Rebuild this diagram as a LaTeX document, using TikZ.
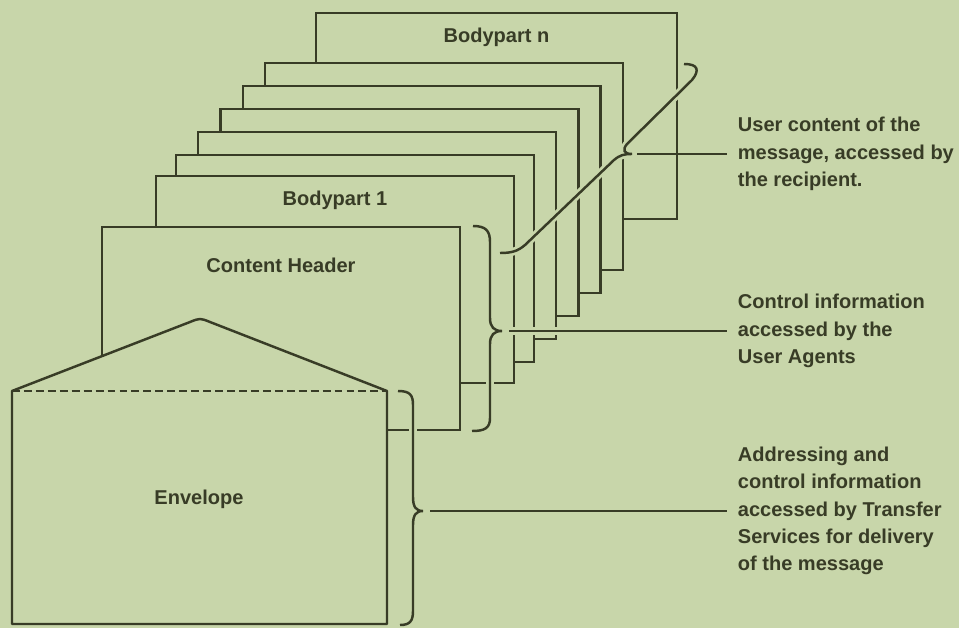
\documentclass[tikz,border=0pt]{standalone}
\usepackage{fontspec}
\setmainfont{Liberation Sans}
\usetikzlibrary{positioning, calc}
\definecolor{paper}{RGB}{200,214,170}
\definecolor{ink}{RGB}{56,60,38}

\begin{document}
\begin{tikzpicture}[
    x=0.02cm, y=-0.02cm,
    sheet/.style={rectangle, draw=ink, fill=paper, line width=1.4pt, anchor=north west,
                  minimum width=7.16cm, minimum height=4.14cm, inner sep=0pt, outer sep=0pt},
    title/.style={font=\fontsize{11.4}{15.6}\selectfont\bfseries, text=ink, inner sep=0pt},
    note/.style={font=\fontsize{11.4}{15.6}\selectfont\bfseries, text=ink, align=left,
                 anchor=west, inner xsep=6pt, inner ysep=0pt},
    brace/.style={draw=ink, line width=1.4pt, preaction={draw=paper, line width=4.5pt}},
    link/.style={draw=ink, line width=1.4pt, preaction={draw=paper, line width=4.5pt}}
]
\fill[paper] (0,0) rectangle (959,628);
\useasboundingbox (0,0) rectangle (959,628);

% sheets, back to front
\node[sheet, minimum width=7.22cm, minimum height=4.12cm] (bpn) at (316,13) {};
\node[title] (bpnlabel) at ($(bpn.north)+(0,24)$) {Bodypart n};
\foreach \i in {0,...,4}
    \node[sheet] (mid\i) at (265-22.25*\i, 63+23*\i) {};
\node[sheet] (bp1) at (156,176) {};
\node[title] (bp1label) at ($(bp1.north)+(0,24)$) {Bodypart 1};
\node[sheet, minimum height=4.06cm] (chead) at (102,227) {};
\node[title] (cheadlabel) at ($(chead.north)+(0,38)$) {Content Header};

% envelope with its flap
\coordinate (envnw) at (12,391);
\coordinate (envne) at (387,391);
\coordinate (envse) at (387,624);
\coordinate (envsw) at (12,624);
\filldraw[fill=paper, draw=ink, line width=1.4pt, line join=round]
    (envsw) -- (envnw) -- (190,322) .. controls (200,318) .. (210,322)
    -- (envne) -- (envse) -- cycle;
\draw[ink, line width=1.4pt, dash pattern=on 4.5pt off 2.3pt] (envnw) -- (envne);
\node[title] (envlabel) at (199,499) {Envelope};

% braces
\draw[brace] (398,391) .. controls (410,391) and (413,395) .. (413,405) -- (413,497)
    .. controls (413,507) and (416,511) .. (423,511)
    .. controls (416,511) and (413,515) .. (413,525) -- (413,611)
    .. controls (413,621) and (410,625) .. (400,625);
\draw[brace] (473,226) .. controls (486,226) and (490,231) .. (490,242) -- (490,318)
    .. controls (490,327) and (494,331) .. (502,331)
    .. controls (494,331) and (490,335) .. (490,344) -- (490,418)
    .. controls (490,428) and (485,431) .. (472,431);
\draw[brace] (684,64) .. controls (698,64) and (700,70) .. (692,80) -- (627,144)
    .. controls (622,150) and (624,154) .. (632,154)
    .. controls (624,154) and (620,155) .. (614,160) -- (525,245)
    .. controls (518,251) and (512,253) .. (500,253);

% notes
\coordinate (usertip) at (637,154);
\coordinate (cheadtip) at (509,331);
\coordinate (envtip) at (430,511);
\node[note] (usernote) at (727,154) {User content of the\\message, accessed by\\the recipient.};
\node[note] (ctrlnote) at (727,331) {Control information\\accessed by the\\User Agents};
\node[note] (addrnote) at (727,511) {Addressing and\\control information\\accessed by Transfer\\Services for delivery\\of the message};
\draw[ink, line width=1.4pt] (usertip) -- (usernote.west);
\draw[link] (cheadtip) -- (ctrlnote.west);
\draw[link] (envtip) -- (addrnote.west);
\end{tikzpicture}
\end{document}
